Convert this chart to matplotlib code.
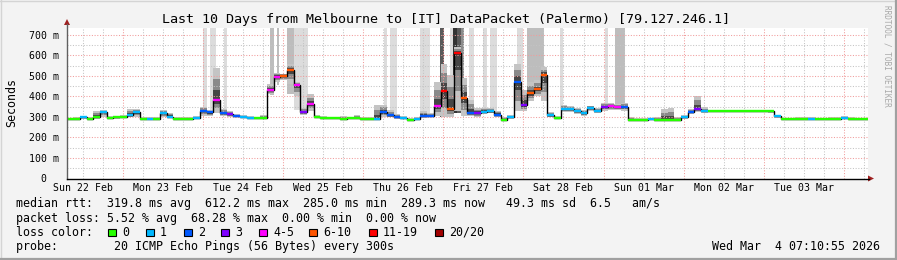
import numpy as np
import matplotlib
matplotlib.use('Agg')
import matplotlib.pyplot as plt
from matplotlib.patches import Rectangle, Polygon
from matplotlib.lines import Line2D

plt.rcParams['font.family'] = 'DejaVu Sans Mono'

# 10 days of 2-hour steps, hours counted from Sun 22 Feb 07:10:55
step_h = 2
median_ms = [
    292, 292, 300, 292, 300, 325, 295, 298, 300, 310,
    322, 292, 292, 292, 318, 302, 292, 292, 292, 297,
    330, 322, 384, 320, 315, 305, 300, 297, 297, 297,
    433, 497, 500, 530, 456, 325, 365, 300, 297, 295,
    295, 292, 293, 295, 290, 292, 292, 322, 308, 300,
    295, 287, 290, 305, 305, 355, 427, 340, 612, 395,
    320, 320, 326, 329, 312, 286, 300, 472, 360, 415,
    435, 505, 310, 297, 340, 340, 328, 318, 345, 330,
    350, 352, 348, 350, 287, 287, 287, 288, 287, 287,
    287, 287, 300, 325, 339, 327, 327, 327, 327, 327,
    327, 327, 327, 327, 327, 327, 303, 289, 289, 289,
    289, 291, 289, 289, 289, 289, 294, 291, 288, 289,
]
# loss class per step: 0, 1, 2, 3, 4-5, 6-10, 11-19, 20/20
loss_class = [
    0, 0, 1, 0, 0, 1, 0, 0, 0, 1,
    1, 0, 1, 0, 1, 1, 0, 0, 0, 1,
    2, 2, 4, 2, 3, 2, 1, 1, 0, 0,
    4, 4, 5, 5, 4, 3, 4, 0, 0, 0,
    0, 0, 0, 0, 0, 0, 1, 2, 2, 2,
    1, 0, 1, 2, 2, 4, 6, 5, 6, 5,
    2, 3, 1, 1, 2, 0, 1, 2, 3, 5,
    5, 5, 1, 0, 1, 1, 1, 1, 1, 1,
    3, 4, 4, 2, 0, 0, 0, 1, 0, 0,
    0, 0, 1, 2, 3, 1, 0, 0, 0, 0,
    0, 0, 0, 0, 0, 0, 1, 0, 0, 0,
    0, 1, 0, 0, 0, 0, 1, 0, 0, 0,
]
smoke_hi = [
    296, 298, 305, 300, 330, 335, 305, 305, 310, 340,
    340, 298, 300, 298, 335, 320, 298, 298, 298, 305,
    350, 335, 540, 340, 330, 315, 308, 305, 302, 310,
    460, 515, 512, 560, 470, 345, 410, 310, 305, 300,
    300, 305, 300, 310, 300, 300, 358, 360, 335, 315,
    305, 295, 300, 330, 320, 470, 560, 505, 640, 490,
    385, 345, 345, 345, 330, 300, 310, 557, 430, 470,
    480, 545, 325, 305, 360, 355, 345, 335, 355, 345,
    370, 370, 365, 370, 298, 293, 293, 295, 300, 340,
    345, 298, 310, 340, 404, 348, 335, 330, 332, 333,
    335, 333, 335, 335, 333, 330, 310, 295, 295, 298,
    300, 298, 295, 295, 300, 298, 305, 298, 295, 295,
]
smoke_lo = [
    289, 289, 292, 288, 290, 300, 290, 292, 293, 298,
    300, 288, 288, 288, 300, 295, 288, 288, 288, 290,
    305, 305, 320, 305, 300, 298, 294, 292, 292, 292,
    410, 470, 480, 460, 400, 310, 330, 294, 292, 290,
    290, 288, 288, 290, 284, 288, 288, 300, 298, 292,
    288, 282, 285, 296, 298, 305, 300, 300, 330, 305,
    305, 300, 315, 318, 300, 282, 292, 330, 330, 380,
    400, 380, 298, 292, 325, 325, 315, 305, 330, 318,
    330, 335, 335, 330, 283, 283, 283, 283, 283, 283,
    283, 283, 290, 315, 325, 320, 322, 322, 322, 322,
    322, 322, 322, 322, 322, 320, 295, 285, 285, 285,
    285, 286, 285, 285, 285, 285, 288, 287, 284, 285,
]
# full-height smoke columns (hours from start)
tall_start = [40.8, 42.9, 47.1, 60.9, 63.0, 66.0, 68.1, 95.1, 96.9, 105.9, 111.9, 114.9,
              115.8, 117.0, 117.9, 120.6, 124.8, 126.9, 135.0, 138.0, 147.9, 161.1, 164.1]
tall_end = [42.0, 44.7, 48.0, 62.1, 63.6, 68.1, 72.3, 96.0, 99.0, 108.9, 113.1, 116.1,
            117.0, 118.2, 119.1, 122.1, 126.0, 129.0, 136.8, 143.1, 148.8, 162.0, 167.1]
tall_floor = [345, 330, 320, 407, 456, 410, 335, 330, 310, 310, 300, 340,
              320, 320, 360, 330, 330, 330, 470, 420, 340, 355, 355]
tall_level = [0, 0, 0, 1, 1, 1, 0, 0, 0, 0, 3, 0,
              4, 3, 2, 0, 0, 0, 0, 1, 0, 0, 1]

day_labels = ['Sun 22 Feb', 'Mon 23 Feb', 'Tue 24 Feb', 'Wed 25 Feb', 'Thu 26 Feb',
              'Fri 27 Feb', 'Sat 28 Feb', 'Sun 01 Mar', 'Mon 02 Mar', 'Tue 03 Mar']
y_labels = ['0  ', '100 m', '200 m', '300 m', '400 m', '500 m', '600 m', '700 m']
loss_labels = ['0', '1', '2', '3', '4-5', '6-10', '11-19', '20/20']
loss_colors = ['#26ff00', '#00b8ff', '#0059ff', '#7e00ff', '#ff00ff', '#ff5500', '#ff0000', '#a10000']
tall_colors = ['#dcdcdc', '#bdbdbd', '#8c8c8c', '#5a5a5a', '#333333']

title = 'Last 10 Days from Melbourne to [IT] DataPacket (Palermo) [79.127.246.1]'
legend_rows = [
    'median rtt:  319.8 ms avg  612.2 ms max  285.0 ms min  289.3 ms now   49.3 ms sd  6.5   am/s',
    'packet loss: 5.52 % avg  68.28 % max  0.00 % min  0.00 % now',
    'loss color:',
    'probe:        20 ICMP Echo Pings (56 Bytes) every 300s',
]
stamp = 'Wed Mar  4 07:10:55 2026'

median_ms = np.array(median_ms)
smoke_hi = np.array(smoke_hi)
smoke_lo = np.array(smoke_lo)
edges = np.arange(len(median_ms) + 1) * step_h
start_hod = 7 + 10 / 60 + 55 / 3600

W, H = 897, 260
fig = plt.figure(figsize=(W / 100, H / 100), dpi=100, facecolor='#f3f3f3')


def fx(x):
    return x / W


def fy(y):
    return 1 - y / H


ax = fig.add_axes([fx(66.5), fy(178.5), (868 - 66.5) / W, (178.5 - 28) / H])
ax.set_facecolor('white')
ymax = 734
ax.set_xlim(0, 240)
ax.set_ylim(0, ymax)
for s in ax.spines.values():
    s.set_visible(False)

# tall columns
order = np.argsort(tall_level, kind='stable')
for i in order:
    ax.bar(tall_start[i], ymax - tall_floor[i], width=tall_end[i] - tall_start[i],
           bottom=tall_floor[i], align='edge', color=tall_colors[tall_level[i]], lw=0, zorder=1)

# smoke bands
left = edges[:-1]
for frac, col in [(1.0, '#c4c4c4'), (0.65, '#8a8a8a'), (0.3, '#454545')]:
    lo = median_ms - frac * (median_ms - smoke_lo)
    hi = median_ms + frac * (smoke_hi - median_ms)
    ax.bar(left, hi - lo, width=step_h, bottom=lo, align='edge', color=col, lw=0, zorder=1.5)

# grid
dotted = (0, (1, 1.6))
hours6 = np.arange(6 - start_hod, 240, 6)
mid_mask = np.isclose((hours6 + start_hod) % 24, 0)
ax.vlines(hours6[~mid_mask], 0, ymax, colors='#c4c4c4', lw=0.75, linestyles=dotted, zorder=2)
ax.vlines(hours6[mid_mask], 0, ymax, colors='#f19c9c', lw=0.75, linestyles=dotted, zorder=2)
ax.hlines(np.arange(50, 734, 100), 0, 240, colors='#c4c4c4', lw=0.75, linestyles=dotted, zorder=2)
ax.hlines(np.arange(100, 734, 100), 0, 240, colors='#f19c9c', lw=0.75, linestyles=dotted, zorder=2)

# median
ax.stairs(median_ms, edges, baseline=None, color='black', lw=1, zorder=3)
ax.hlines(median_ms, edges[:-1], edges[1:], colors=[loss_colors[c] for c in loss_class],
          lw=1.7, zorder=4)

noons = np.arange(len(day_labels)) * 24 + 12 - start_hod
ax.set_xticks(noons, day_labels)
ax.set_yticks(np.arange(0, 701, 100), y_labels)
ax.tick_params(axis='x', length=0, pad=3, labelsize=7.1)
ax.tick_params(axis='y', length=0, pad=5.5, labelsize=7.1)

# axes with arrows
fig.add_artist(Line2D([fx(67), fx(67)], [fy(178.5), fy(24)], color='#606060', lw=1))
fig.add_artist(Line2D([fx(66.5), fx(869)], [fy(178.5), fy(178.5)], color='black', lw=1))
fig.add_artist(Polygon([(fx(64), fy(25)), (fx(70), fy(25)), (fx(67), fy(19))],
                       closed=True, color='#a02020', lw=0))
fig.add_artist(Polygon([(fx(868), fy(175.5)), (fx(868), fy(181.5)), (fx(874), fy(178.5))],
                       closed=True, color='#a02020', lw=0))

# texts
fig.text(fx(446), fy(19), title, ha='center', va='center', fontsize=9.6)
fig.text(fx(12), fy(103), 'Seconds', rotation=90, ha='center', va='center', fontsize=8.4)
fig.text(fx(887), fy(5), 'RRDTOOL / TOBI OETIKER', rotation=-90, ha='center', va='top',
         fontsize=5.6, color='#a8a8a8')
for row, y in zip(legend_rows, [204, 218.3, 232.3, 246.7]):
    fig.text(fx(16), fy(y), row, ha='left', va='center', fontsize=8.4)
fig.text(fx(880), fy(246.7), stamp, ha='right', va='center', fontsize=8.4)

box_x = [108, 146, 184, 221, 259, 309, 369, 435]
for bx, lab, col in zip(box_x, loss_labels, loss_colors):
    fig.add_artist(Rectangle((fx(bx), fy(236)), 7.5 / W, 7.5 / H, transform=fig.transFigure,
                             facecolor=col, edgecolor='black', lw=0.8))
    fig.text(fx(bx + 14), fy(232.3), lab, ha='left', va='center', fontsize=8.4)

# frame
fig.add_artist(Line2D([0, 1], [fy(0.5), fy(0.5)], color='#d4d4d4', lw=1))
fig.add_artist(Line2D([fx(0.5), fx(0.5)], [0, 1], color='#d4d4d4', lw=1))
fig.add_artist(Line2D([0, 1], [fy(258.8), fy(258.8)], color='#a0a0a0', lw=1.6))
fig.add_artist(Line2D([fx(895.8), fx(895.8)], [0, 1], color='#a0a0a0', lw=1.6))

fig.savefig('out.png', dpi=100, facecolor=fig.get_facecolor())
